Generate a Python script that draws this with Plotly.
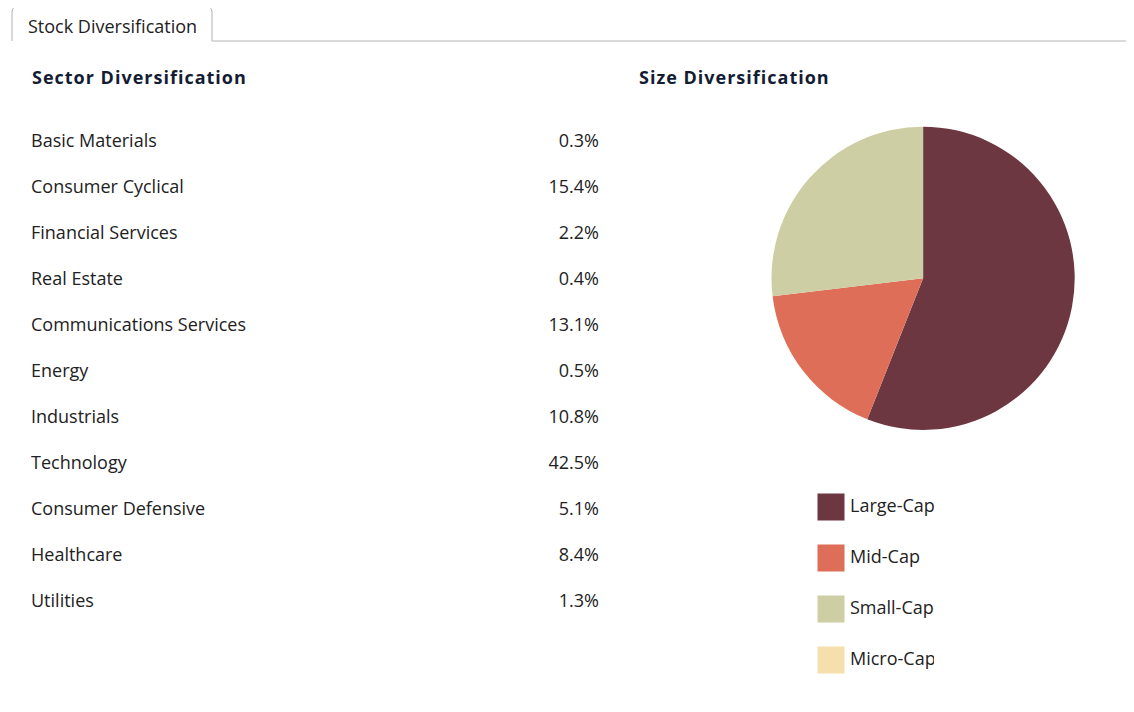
import plotly.graph_objects as go

W, H = 1126, 696

# Sector diversification (percent of stock holdings)
sectors = ["Basic Materials", "Consumer Cyclical", "Financial Services", "Real Estate",
           "Communications Services", "Energy", "Industrials", "Technology",
           "Consumer Defensive", "Healthcare", "Utilities"]
sector_pct = [0.3, 15.4, 2.2, 0.4, 13.1, 0.5, 10.8, 42.5, 5.1, 8.4, 1.3]

# Size diversification
sizes = ["Large-Cap", "Mid-Cap", "Small-Cap", "Micro-Cap"]
size_pct = [56.0, 17.1, 26.9, 0.0]
size_colors = ["#6d3741", "#de6e58", "#cdcea3", "#f5dfac"]

FONT = "Open Sans"
FS = 18
TXT = "#222222"
HEAD = "#131c33"

# the page body adds an 8px margin, so shift everything back by that much
OFF = 8


def px(x):
    return (x - OFF) / W


def py(y):
    return 1 - (y - OFF) / H


fig = go.Figure()

# sector names and values as text on a category axis
fig.add_trace(go.Scatter(
    x=[0] * len(sectors), y=sectors, mode="text", text=sectors,
    textposition="middle right", textfont=dict(family=FONT, size=FS, color=TXT),
    hoverinfo="skip", xaxis="x", yaxis="y", showlegend=False,
))
fig.add_trace(go.Scatter(
    x=[1] * len(sectors), y=sectors, mode="text",
    text=[f"{v:.1f}%" for v in sector_pct],
    textposition="middle left", textfont=dict(family=FONT, size=FS, color=TXT),
    hoverinfo="skip", xaxis="x", yaxis="y", showlegend=False,
))

# pie chart
fig.add_trace(go.Pie(
    labels=sizes, values=size_pct, sort=False, direction="clockwise", rotation=0,
    marker=dict(colors=size_colors, line=dict(width=0)),
    textinfo="none", hoverinfo="label+percent", showlegend=False,
    domain=dict(x=[px(771.5), px(1074.7)], y=[py(429.9), py(126.7)]),
))

# legend drawn as markers + labels
fig.add_trace(go.Scatter(
    x=[831] * len(sizes), y=sizes, mode="markers",
    marker=dict(symbol="square", size=27, color=size_colors, line=dict(width=0)),
    hoverinfo="skip", xaxis="x2", yaxis="y2", showlegend=False,
))
fig.add_trace(go.Scatter(
    x=[850] * len(sizes), y=sizes, mode="text", text=sizes,
    textposition="middle right", textfont=dict(family=FONT, size=FS, color=TXT),
    hoverinfo="skip", xaxis="x2", yaxis="y2", showlegend=False, cliponaxis=True,
))

hidden = dict(visible=False, showgrid=False, zeroline=False, fixedrange=True)

fig.update_layout(
    width=W, height=H,
    margin=dict(l=0, r=0, t=0, b=0),
    paper_bgcolor="white", plot_bgcolor="white",
    xaxis=dict(hidden, domain=[px(31), px(599)], range=[0, 1]),
    yaxis=dict(hidden, domain=[py(625), py(119)], range=[10.5, -0.5],
               type="category", categoryorder="array", categoryarray=sectors),
    xaxis2=dict(hidden, domain=[px(800), px(934)], range=[800, 934], anchor="y2"),
    yaxis2=dict(hidden, domain=[py(685.5), py(481.5)], range=[3.5, -0.5],
                type="category", categoryorder="array", categoryarray=sizes, anchor="x2"),
    shapes=[
        dict(type="path", xref="paper", yref="paper",
             path=(f"M{px(12)},{py(41)} L{px(12)},{py(12)} "
                   f"Q{px(12)},{py(7)} {px(17)},{py(7)} "
                   f"L{px(207)},{py(7)} Q{px(212)},{py(7)} {px(212)},{py(12)} "
                   f"L{px(212)},{py(41)} L{px(1134)},{py(41)}"),
             line=dict(color="#b4b4b4", width=1)),
    ],
    annotations=[
        dict(text="Stock Diversification", x=px(112), y=py(26), xref="paper", yref="paper",
             showarrow=False, xanchor="center", yanchor="middle",
             font=dict(family=FONT, size=FS, color=TXT)),
        dict(text='<b><span style="letter-spacing:1px">Sector Diversification</span></b>',
             x=px(30), y=py(77), xref="paper", yref="paper",
             showarrow=False, xanchor="left", yanchor="middle",
             font=dict(family=FONT, size=FS, color=HEAD)),
        dict(text='<b><span style="letter-spacing:1px">Size Diversification</span></b>',
             x=px(637), y=py(77), xref="paper", yref="paper",
             showarrow=False, xanchor="left", yanchor="middle",
             font=dict(family=FONT, size=FS, color=HEAD)),
    ],
)

fig.write_html("out.html")
